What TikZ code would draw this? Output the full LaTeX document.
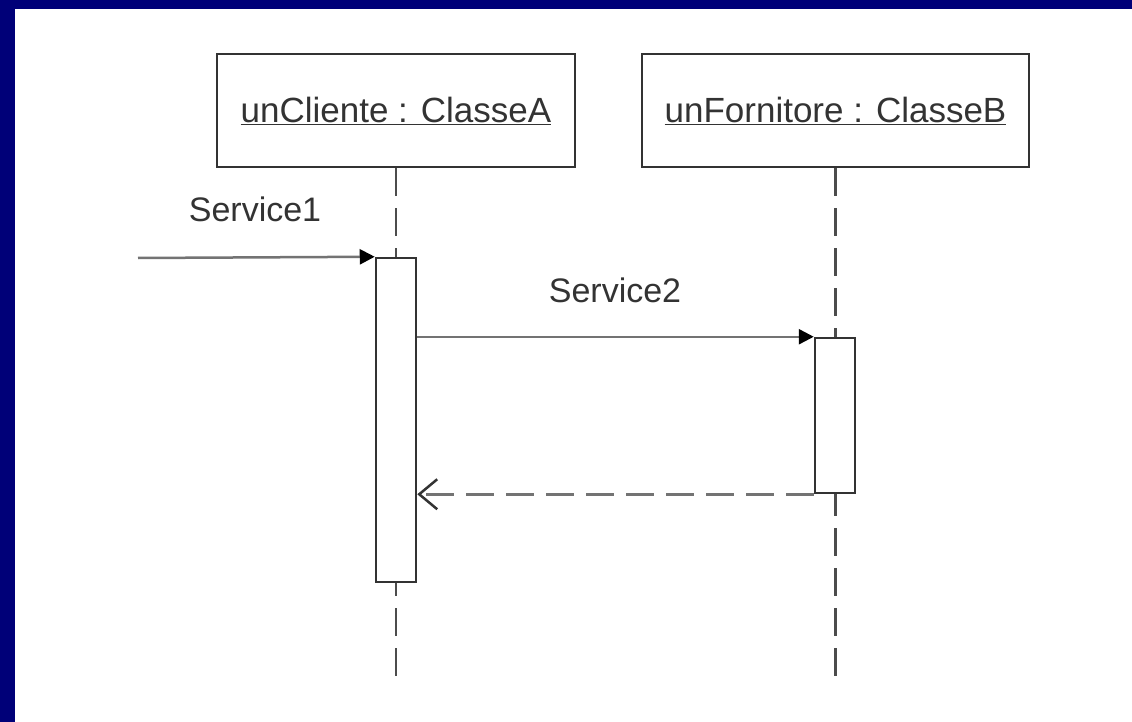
\documentclass[tikz,border=0pt]{standalone}
\usepackage{fontspec}
\setmainfont{Liberation Sans}
\usetikzlibrary{arrows.meta}
\definecolor{navy}{RGB}{0,0,120}
\begin{document}
\begin{tikzpicture}[x=1pt,y=-1pt,
  obj/.style={draw=black!80, line width=2.5pt, fill=white, minimum height=113pt, inner sep=0pt,
    font=\fontsize{35}{42}\selectfont, text=black!80},
  act/.style={draw=black!80, line width=2.5pt, fill=white, inner sep=0pt, minimum width=40pt},
  life/.style={draw=black!70, line width=2.5pt, dash pattern=on 28pt off 12pt},
  msg/.style={draw=black!55, line width=2.5pt},
  tip/.style={-{Triangle[length=15pt,width=15pt,color=black,fill=black]}},
  lbl/.style={font=\fontsize{34}{40}\selectfont, text=black!80, inner sep=0pt}]
\useasboundingbox (0,0) rectangle (1132,722);
\fill[white] (0,0) rectangle (1132,722);
\fill[navy] (0,0) rectangle (1132,9);
\fill[navy] (0,0) rectangle (15,722);

% objects
\node[obj, minimum width=358pt] (A) at (396,110.5) {\underline{unCliente : ClasseA}};
\node[obj, minimum width=387pt] (B) at (835.5,110.5) {\underline{unFornitore : ClasseB}};

% lifelines
\coordinate (endA) at (396,682);
\coordinate (endB) at (835.5,682);
\draw[life] (A.south) -- (endA);
\draw[life] (B.south) -- (endB);

% activations
\node[act, minimum height=324pt] (actA) at (396,420) {};
\node[act, minimum height=155pt] (actB) at (835,415.5) {};

% Service1
\coordinate (start) at (138,258);
\draw[msg, tip] (start) -- (actA.north west);
\node[lbl, anchor=base] (s1) at (255,222) {Service1};

% Service2
\draw[msg, tip] (actA.east |- actB.north) -- (actB.north west);
\node[lbl, anchor=base] (s2) at (615,302) {Service2};

% return
\draw[msg, dash pattern=on 28pt off 12pt, -{Straight Barb[length=18pt,width=30pt,line width=2.5pt,color=black!80]}]
  (actB.south west) -- (actA.east |- actB.south);
\end{tikzpicture}
\end{document}
